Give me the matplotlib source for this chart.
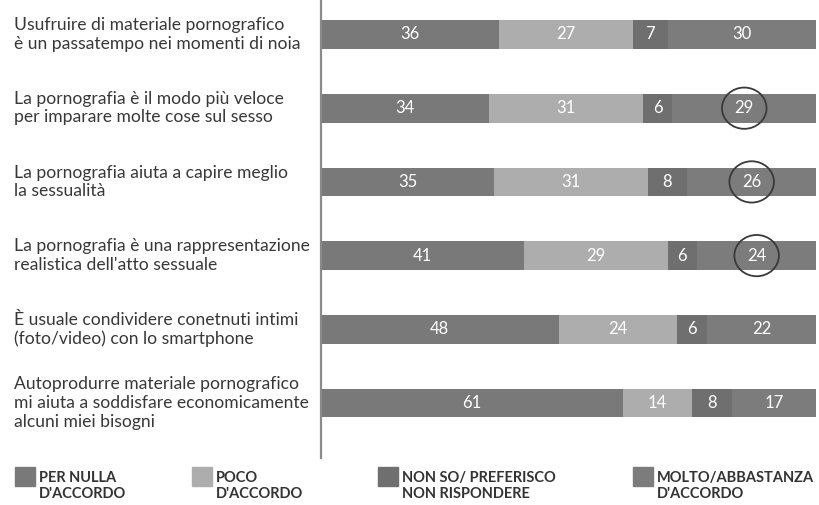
import matplotlib
matplotlib.use('Agg')
import matplotlib.pyplot as plt
from matplotlib.patches import Ellipse, Rectangle
from matplotlib.transforms import blended_transform_factory

plt.rcParams['font.family'] = ['Lato', 'DejaVu Sans']

# Statements (top to bottom)
statements = [
    "Usufruire di materiale pornografico\nè un passatempo nei momenti di noia",
    "La pornografia è il modo più veloce\nper imparare molte cose sul sesso",
    "La pornografia aiuta a capire meglio\nla sessualità",
    "La pornografia è una rappresentazione\nrealistica dell'atto sessuale",
    "È usuale condividere conetnuti intimi\n(foto/video) con lo smartphone",
    "Autoprodurre materiale pornografico\nmi aiuta a soddisfare economicamente\nalcuni miei bisogni",
]

# Answer shares (%)
per_nulla = [36, 34, 35, 41, 48, 61]
poco = [27, 31, 31, 29, 24, 14]
non_so = [7, 6, 8, 6, 6, 8]
molto = [30, 29, 26, 24, 22, 17]

# rows where the last value is circled
circled = [False, True, True, True, False, False]

legend_labels = ["PER NULLA\nD'ACCORDO", "POCO\nD'ACCORDO",
                 "NON SO/ PREFERISCO\nNON RISPONDERE", "MOLTO/ABBASTANZA\nD'ACCORDO"]
colors = ['#797979', '#adadad', '#6f6f6f', '#7c7c7c']

W, H = 820, 505
fig = plt.figure(figsize=(W / 100, H / 100), dpi=100)
ax = fig.add_axes([321 / W, 1 - 458 / H, (W - 321) / W, 458 / H])

series = [per_nulla, poco, non_so, molto]
rows = list(range(len(statements)))
left = [0] * len(rows)
for vals, col in zip(series, colors):
    ax.barh(rows, vals, left=left, height=0.39, color=col, edgecolor='none')
    for r in rows:
        ax.text(left[r] + vals[r] / 2, r, str(vals[r]), ha='center', va='center',
                color='white', fontsize=12)
    left = [l + v for l, v in zip(left, vals)]

# circles around some values
for r in rows:
    if circled[r]:
        cx = per_nulla[r] + poco[r] + non_so[r] + molto[r] / 2
        ax.add_patch(Ellipse((cx, r), 9.0, 0.56, fill=False,
                             edgecolor='#3a3a3a', lw=1.3))

ax.set_xlim(0, 100.8)
ax.set_ylim(5.746, -0.468)
ax.set_xticks([])
ax.set_yticks([])
for s in ['top', 'right', 'bottom']:
    ax.spines[s].set_visible(False)
ax.spines['left'].set_color('#8a8a8a')
ax.spines['left'].set_linewidth(1.6)

# statement labels on the left
tr = blended_transform_factory(fig.transFigure, ax.transData)
for r, txt in enumerate(statements):
    ax.text(14 / W, r, txt, transform=tr, ha='left', va='center',
            fontsize=12.6, color='#383838', linespacing=1.2, clip_on=False)

# legend at the bottom
legend_x = [15, 192, 378, 633]
for x, lab, col in zip(legend_x, legend_labels, colors):
    fig.patches.append(Rectangle((x / W, 1 - 486 / H), 20 / W, 19 / H,
                                 transform=fig.transFigure, color=col))
    fig.text((x + 24) / W, 1 - 486 / H, lab, ha='left', va='center',
             fontsize=10.5, fontweight='bold', color='#333333', linespacing=1.25)

fig.savefig('out.png', dpi=100)
